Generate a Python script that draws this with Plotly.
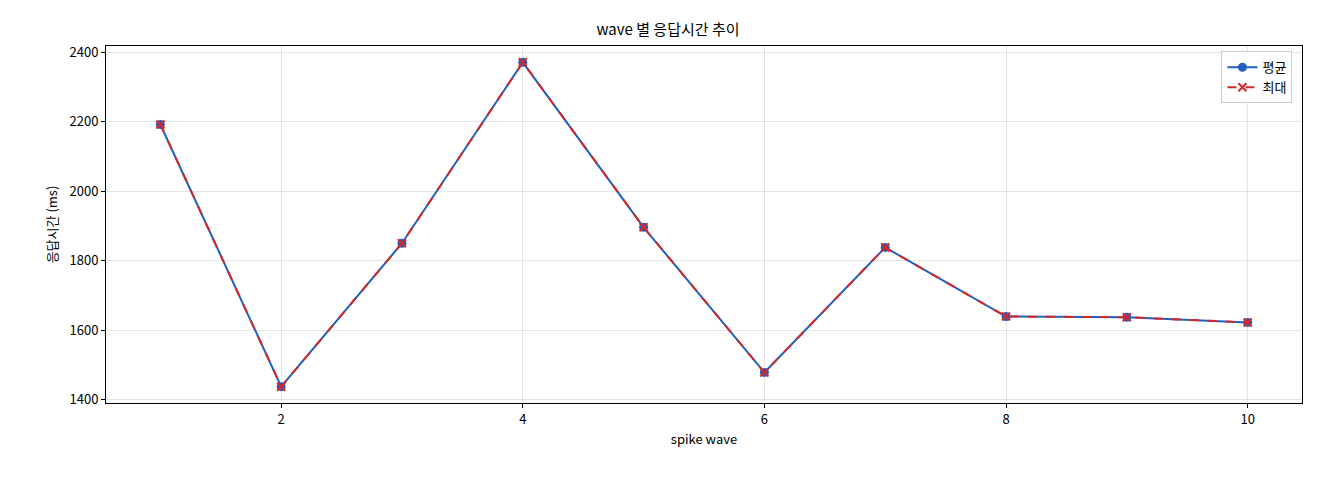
import plotly.graph_objects as go

waves = [1, 2, 3, 4, 5, 6, 7, 8, 9, 10]
avg_ms = [2192, 1437, 1850, 2371, 1896, 1478, 1838, 1639, 1637, 1622]
max_ms = [2192, 1437, 1850, 2371, 1896, 1478, 1838, 1639, 1637, 1622]

fig = go.Figure()
fig.add_trace(go.Scatter(x=waves, y=avg_ms, name="평균", mode="lines+markers",
                         line=dict(color="#1f5fbf", width=2), marker=dict(size=9, color="#1f5fbf")))
fig.add_trace(go.Scatter(x=waves, y=max_ms, name="최대", mode="lines+markers",
                         line=dict(color="#d62728", width=2, dash="dash"),
                         marker=dict(symbol="x-thin", size=8, color="#d62728",
                                     line=dict(width=2, color="#d62728"))))
axis_common = dict(showline=True, mirror=True, linecolor="black", linewidth=1,
                   ticks="outside", ticklen=4, tickcolor="black",
                   tickfont=dict(size=13),
                   showgrid=True, gridcolor="rgba(0,0,0,0.1)", zeroline=False)
fig.update_layout(
    width=1320, height=480, plot_bgcolor="white", paper_bgcolor="white",
    font=dict(family="Noto Sans CJK KR", size=13, color="black"),
    title=dict(text="wave 별 응답시간 추이", x=0.5, xanchor="center", y=0.965, font=dict(size=15)),
    margin=dict(l=98, r=26, t=38, b=85),
    xaxis=dict(title=dict(text="spike wave", standoff=8, font=dict(size=13)), range=[0.55, 10.45],
               tickvals=[2, 4, 6, 8, 10], **axis_common),
    yaxis=dict(title=dict(text="응답시간 (ms)", standoff=8, font=dict(size=13)), range=[1390, 2418],
               tickvals=[1400, 1600, 1800, 2000, 2200, 2400], **axis_common),
    legend=dict(x=0.992, y=0.985, xanchor="right", yanchor="top",
                bordercolor="#cccccc", borderwidth=1, bgcolor="white"),
)
fig.write_html("out.html")
